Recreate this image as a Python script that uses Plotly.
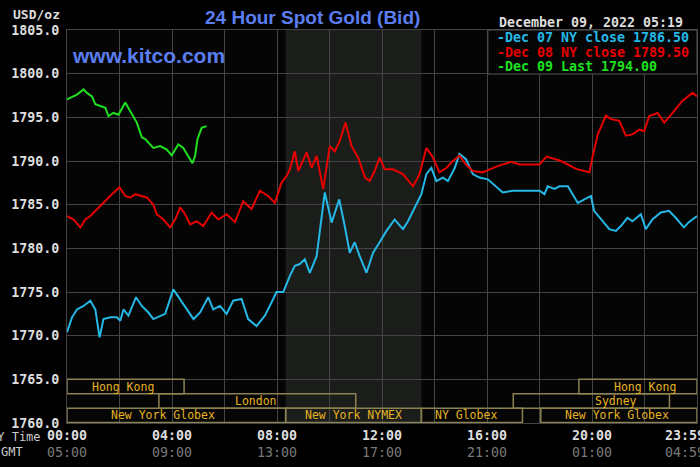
import plotly.graph_objects as go

# ---------------- data (hours since 00:00 NY time, USD/oz) ----------------
dec07_hours = [0, 0.19, 0.38, 0.63, 0.89, 1.08, 1.24, 1.39, 1.65, 1.9, 2.03, 2.15, 2.34, 2.63, 2.85,
               3.1, 3.29, 3.55, 3.74, 4.05, 4.31, 4.56, 4.82, 5.07, 5.38, 5.57, 5.83, 6.08, 6.33,
               6.65, 6.9, 7.22, 7.54, 7.79, 7.98, 8.24, 8.49, 8.68, 8.87, 9.06, 9.25, 9.51, 9.63,
               9.82, 10.08, 10.37, 10.58, 10.77, 10.96, 11.15, 11.41, 11.66, 11.91, 12.17, 12.48,
               12.8, 12.99, 13.24, 13.5, 13.69, 13.88, 14.07, 14.32, 14.51, 14.77, 14.95, 15.2,
               15.46, 15.71, 16.03, 16.35, 16.6, 16.98, 17.49, 18.0, 18.19, 18.31, 18.57, 18.76,
               19.08, 19.26, 19.46, 19.71, 19.96, 20.08, 20.34, 20.66, 20.91, 21.1, 21.35, 21.54,
               21.86, 22.05, 22.3, 22.62, 22.93, 23.19, 23.5, 23.69, 24.0]
dec07_price = [1770.4, 1772.1, 1773.0, 1773.4, 1774.0, 1773.0, 1769.8, 1771.9, 1772.1, 1772.1, 1771.7,
               1773.0, 1772.3, 1774.4, 1773.4, 1772.65, 1771.9, 1772.3, 1772.5, 1775.3, 1774.2,
               1773.0, 1771.9, 1772.65, 1774.4, 1773.0, 1773.4, 1772.5, 1774.0, 1774.2, 1771.9,
               1771.1, 1772.3, 1773.8, 1775.0, 1775.0, 1776.85, 1778.0, 1778.2, 1778.75, 1777.2,
               1779.1, 1782.2, 1786.4, 1782.95, 1785.6, 1782.55, 1779.5, 1780.7, 1779.1, 1777.2,
               1779.5, 1780.7, 1782.0, 1783.3, 1782.2, 1783.1, 1784.7, 1786.2, 1788.5, 1789.2,
               1787.7, 1788.1, 1787.7, 1789.2, 1790.8, 1790.2, 1788.5, 1788.1, 1787.9, 1787.1,
               1786.4, 1786.6, 1786.6, 1786.6, 1786.2, 1787.1, 1786.8, 1787.1, 1787.1, 1786.2,
               1785.2, 1785.6, 1786.0, 1784.3, 1783.3, 1782.2, 1782.0, 1782.55, 1783.5, 1783.1,
               1783.9, 1782.2, 1783.3, 1784.1, 1784.3, 1783.5, 1782.4, 1783.0, 1783.7]

dec08_hours = [0, 0.25, 0.51, 0.7, 0.89, 1.08, 1.27, 1.46, 1.71, 2.0, 2.22, 2.41, 2.6, 2.85, 3.05,
               3.29, 3.42, 3.67, 3.93, 4.12, 4.31, 4.5, 4.69, 4.94, 5.19, 5.51, 5.76, 6.08, 6.4,
               6.71, 7.03, 7.35, 7.66, 7.92, 8.17, 8.37, 8.49, 8.68, 8.81, 9.13, 9.32, 9.51, 9.76,
               10.01, 10.2, 10.39, 10.61, 10.84, 11.09, 11.35, 11.53, 11.72, 11.91, 12.1, 12.42,
               12.8, 13.18, 13.43, 13.69, 13.94, 14.19, 14.45, 14.7, 14.95, 15.2, 15.46, 15.71,
               15.84, 16.1, 16.48, 16.92, 17.24, 17.62, 18.0, 18.27, 18.63, 18.82, 19.08, 19.39,
               19.71, 19.9, 20.03, 20.22, 20.53, 20.72, 21.04, 21.29, 21.54, 21.8, 21.99, 22.18,
               22.5, 22.75, 23.07, 23.45, 23.83, 24.0]
dec08_price = [1783.7, 1783.3, 1782.4, 1783.3, 1783.7, 1784.3, 1784.85, 1785.4, 1786.2, 1787.0, 1786.0,
               1785.8, 1786.2, 1786.0, 1785.8, 1785.0, 1783.9, 1783.3, 1782.4, 1783.3, 1784.7,
               1783.9, 1782.75, 1783.1, 1782.55, 1784.1, 1783.3, 1783.9, 1783.0, 1785.4, 1784.5,
               1786.6, 1786.0, 1785.2, 1787.5, 1788.3, 1789.05, 1791.1, 1788.85, 1791.0, 1789.2,
               1790.6, 1786.8, 1791.7, 1791.1, 1792.3, 1794.4, 1791.7, 1790.4, 1788.1, 1787.7,
               1788.85, 1790.4, 1789.05, 1789.05, 1788.5, 1787.1, 1788.5, 1791.5, 1790.4, 1788.7,
               1789.2, 1790.0, 1790.6, 1789.6, 1788.85, 1788.7, 1788.7, 1789.05, 1789.5, 1789.9,
               1789.6, 1789.6, 1789.6, 1790.5, 1790.2, 1790.0, 1789.6, 1789.1, 1788.85, 1788.7,
               1790.6, 1793.05, 1795.2, 1794.8, 1794.6, 1792.9, 1793.05, 1793.6, 1793.4, 1795.15,
               1795.5, 1794.4, 1795.5, 1796.9, 1797.8, 1797.4]

dec09_hours = [0, 0.19, 0.38, 0.63, 0.76, 0.95, 1.08, 1.27, 1.46, 1.58, 1.77, 1.96, 2.22, 2.41, 2.66,
               2.85, 2.98, 3.1, 3.29, 3.55, 3.8, 3.99, 4.24, 4.43, 4.62, 4.78, 4.88, 4.97, 5.13, 5.32]
dec09_price = [1797.06, 1797.3, 1797.6, 1798.2, 1797.8, 1797.4, 1796.5, 1796.3, 1796.1, 1795.15,
               1795.5, 1795.3, 1796.7, 1795.7, 1794.4, 1792.7, 1792.5, 1792.1, 1791.5, 1791.7,
               1791.3, 1790.65, 1791.9, 1791.5, 1790.6, 1789.75, 1790.6, 1792.5, 1793.8, 1794.0]

legend_labels = ["-Dec 07 NY close 1786.50", "-Dec 08 NY close 1789.50", "-Dec 09 Last 1794.00"]
series_colors = ["#25b8e6", "#e60000", "#1fe01f"]

x_tick_hours = [0, 2, 4, 6, 8, 10, 12, 14, 16, 18, 20, 22, 24]
ny_labels = ["00:00", "", "04:00", "", "08:00", "", "12:00", "", "16:00", "", "20:00", "", "23:59"]
gmt_labels = ["05:00", "", "09:00", "", "13:00", "", "17:00", "", "21:00", "", "01:00", "", "04:59"]

y_ticks = [1760, 1765, 1770, 1775, 1780, 1785, 1790, 1795, 1800, 1805]

# trading sessions: name, start hour, end hour, row (0 = top), label hour
session_names = ["Hong Kong", "London", "New York Globex", "New York NYMEX", "NY Globex",
                 "Sydney", "New York Globex", "Hong Kong"]
session_start = [0, 3.5, 0, 8.33, 13.5, 17.0, 18.05, 19.5]
session_end = [4.46, 11.0, 8.33, 13.5, 17.35, 22.95, 24.0, 24.0]
session_row = [0, 1, 2, 2, 2, 1, 2, 0]
session_label_at = [2.14, 7.2, 3.64, 10.9, 15.2, 20.93, 20.96, 22.0]
row_edges = [1765.0, 1763.35, 1761.7, 1760.05]

nymex_shade = [8.33, 13.5]

# ---------------- figure ----------------
MONO = "DejaVu Sans Mono"
fig = go.Figure()

for hrs, prc, col, name in zip([dec07_hours, dec08_hours, dec09_hours],
                               [dec07_price, dec08_price, dec09_price],
                               series_colors, legend_labels):
    fig.add_trace(go.Scatter(x=hrs, y=prc, mode="lines", name=name,
                             line=dict(color=col, width=2), hoverinfo="skip"))

ticktext = []
last = len(ny_labels) - 1
for i, (a, b) in enumerate(zip(ny_labels, gmt_labels)):
    if a:
        pad = "\u00a0\u00a0\u00a0" if i == last else ""
        ticktext.append("<b>%s</b>%s<br><span style='color:#7a7a7a'>%s</span>%s" % (a, pad, b, pad))
    else:
        ticktext.append("")

fig.update_layout(
    width=700, height=467,
    margin=dict(l=67, r=3, t=30, b=44),
    paper_bgcolor="#000000", plot_bgcolor="#050505",
    showlegend=False,
    xaxis=dict(range=[0, 24], tickmode="array", tickvals=x_tick_hours, ticktext=ticktext,
               showgrid=True, gridcolor="#444444", gridwidth=1, zeroline=False,
               showline=True, mirror=True, linecolor="#444444", ticks="", automargin=False,
               ticklabeloverflow="allow",
               tickfont=dict(family=MONO, size=13.3, color="#dddddd")),
    yaxis=dict(range=[1760, 1805], tickmode="array", tickvals=y_ticks,
               ticktext=["<b>%.1f</b>" % v for v in y_ticks],
               showgrid=True, gridcolor="#444444", gridwidth=1, zeroline=False,
               showline=True, mirror=True, linecolor="#444444", ticks="", automargin=False,
               ticklabelstandoff=4,
               tickfont=dict(family=MONO, size=13.3, color="#dddddd")),
)

# NYMEX shading
fig.add_shape(type="rect", xref="x", yref="paper", x0=nymex_shade[0], x1=nymex_shade[1],
              y0=0, y1=1, fillcolor="#1b1d1b", line=dict(width=0), layer="below")

# session boxes
for name, s, e, r, lx in zip(session_names, session_start, session_end, session_row, session_label_at):
    fig.add_shape(type="rect", xref="x", yref="y", x0=s, x1=e, y0=row_edges[r + 1], y1=row_edges[r],
                  line=dict(color="#8c8150", width=1.5), fillcolor="rgba(0,0,0,0)", layer="above")
    fig.add_annotation(x=lx, y=(row_edges[r] + row_edges[r + 1]) / 2, xref="x", yref="y",
                       text=name, showarrow=False,
                       font=dict(family=MONO, size=11.5, color="#e6b422"))

# legend box
fig.add_shape(type="rect", xref="paper", yref="paper", x0=0.668, x1=1.0, y0=0.888, y1=1.0,
              fillcolor="#050505", line=dict(color="#555555", width=1), layer="above")
for i, (lab, col) in enumerate(zip(legend_labels, series_colors)):
    fig.add_annotation(x=0.679, y=0.980 - i * 0.0365, xref="paper", yref="paper",
                       xanchor="left", yanchor="middle", text="<b>%s</b>" % lab, showarrow=False,
                       font=dict(family=MONO, size=13.3, color=col))

# texts
fig.add_annotation(x=0.39, y=1.033, xref="paper", yref="paper", text="<b>24 Hour Spot Gold (Bid)</b>",
                   showarrow=False, yanchor="middle",
                   font=dict(family="Liberation Sans", size=19, color="#5a7ef0"))
fig.add_annotation(x=0.005, y=0.936, xref="paper", yref="paper", xanchor="left", yanchor="middle",
                   text="<b>www.kitco.com</b>", showarrow=False,
                   font=dict(family="Liberation Sans", size=21, color="#5a7ef0"))
fig.add_annotation(x=0.981, y=1.020, xref="paper", yref="paper", xanchor="right", yanchor="middle",
                   text="<b>December 09, 2022 05:19</b>", showarrow=False,
                   font=dict(family=MONO, size=13.3, color="#dddddd"))
fig.add_annotation(x=-0.008, y=1.040, xref="paper", yref="paper", xanchor="right", yanchor="middle",
                   text="<b>USD/oz</b>", showarrow=False,
                   font=dict(family=MONO, size=13, color="#dddddd"))
fig.add_annotation(x=-0.038, y=-0.0356, xref="paper", yref="paper", xanchor="right", yanchor="middle",
                   text="NY Time", showarrow=False,
                   font=dict(family=MONO, size=12, color="#cccccc"))
fig.add_annotation(x=-0.066, y=-0.074, xref="paper", yref="paper", xanchor="right", yanchor="middle",
                   text="GMT", showarrow=False,
                   font=dict(family=MONO, size=12, color="#cccccc"))

fig.write_html("out.html", config={"displayModeBar": False},
               post_script="document.body.style.margin='0';document.body.style.background='#000';")
